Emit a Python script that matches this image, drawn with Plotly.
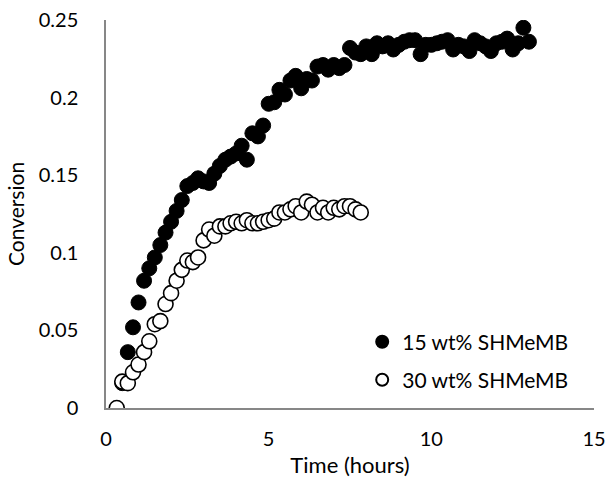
import plotly.graph_objects as go

# Conversion vs. time for two SHMeMB loadings
time_15 = [0.5, 0.67, 0.83, 1.0, 1.17, 1.33, 1.5, 1.67, 1.83, 2.0, 2.17, 2.33, 2.5,
           2.67, 2.83, 3.0, 3.17, 3.33, 3.5, 3.67, 3.83, 4.0, 4.17, 4.33, 4.5, 4.67,
           4.83, 5.0, 5.17, 5.33, 5.5, 5.67, 5.83, 6.0, 6.17, 6.33, 6.5, 6.67, 6.83,
           7.0, 7.17, 7.33, 7.5, 7.67, 7.83, 8.0, 8.17, 8.33, 8.5, 8.67, 8.83, 9.0,
           9.17, 9.33, 9.5, 9.67, 9.83, 10.0, 10.17, 10.33, 10.5, 10.67, 10.83, 11.0,
           11.17, 11.33, 11.5, 11.67, 11.83, 12.0, 12.17, 12.33, 12.5, 12.67, 12.83, 13.0]
conv_15 = [0.016, 0.036, 0.052, 0.068, 0.082, 0.090, 0.097, 0.105, 0.113, 0.120, 0.127,
           0.134, 0.143, 0.145, 0.148, 0.146, 0.145, 0.151, 0.156, 0.160, 0.162, 0.164,
           0.169, 0.160, 0.177, 0.175, 0.182, 0.196, 0.197, 0.205, 0.202, 0.211, 0.214,
           0.206, 0.212, 0.211, 0.220, 0.221, 0.218, 0.221, 0.219, 0.221, 0.232, 0.229,
           0.228, 0.233, 0.228, 0.235, 0.233, 0.235, 0.231, 0.234, 0.236, 0.237, 0.237,
           0.228, 0.234, 0.234, 0.235, 0.236, 0.237, 0.231, 0.234, 0.233, 0.230, 0.237,
           0.235, 0.233, 0.230, 0.235, 0.236, 0.238, 0.231, 0.235, 0.245, 0.236]

time_30 = [0.33, 0.5, 0.67, 0.83, 1.0, 1.17, 1.33, 1.5, 1.67, 1.83, 2.0, 2.17, 2.33,
           2.5, 2.67, 2.83, 3.0, 3.17, 3.33, 3.5, 3.67, 3.83, 4.0, 4.17, 4.33, 4.5,
           4.67, 4.83, 5.0, 5.17, 5.33, 5.5, 5.67, 5.83, 6.0, 6.17, 6.33, 6.5, 6.67,
           6.83, 7.0, 7.17, 7.33, 7.5, 7.67, 7.83]
conv_30 = [0.0, 0.017, 0.016, 0.023, 0.028, 0.036, 0.043, 0.054, 0.056, 0.067, 0.074,
           0.082, 0.089, 0.095, 0.094, 0.097, 0.108, 0.115, 0.111, 0.117, 0.117, 0.119,
           0.120, 0.119, 0.121, 0.119, 0.119, 0.120, 0.121, 0.122, 0.126, 0.126, 0.128,
           0.130, 0.126, 0.133, 0.131, 0.126, 0.129, 0.126, 0.129, 0.128, 0.130, 0.130,
           0.128, 0.126]

x_ticks = [0, 5, 10, 15]
y_ticks = [0, 0.05, 0.1, 0.15, 0.2, 0.25]
y_tick_text = ["0", "0.05", "0.1", "0.15", "0.2", "0.25"]

font_family = "Lato, Open Sans, sans-serif"
axis_color = "#878787"

fig = go.Figure()
fig.add_trace(go.Scatter(
    x=time_15, y=conv_15, mode="markers", name="15 wt% SHMeMB",
    marker=dict(size=15, color="black", line=dict(color="black", width=1)),
    legend="legend",
))
fig.add_trace(go.Scatter(
    x=time_30, y=conv_30, mode="markers", name="30 wt% SHMeMB",
    marker=dict(size=15, color="white", line=dict(color="black", width=1.6)),
    legend="legend2",
))

legend_style = dict(
    font=dict(family=font_family, size=21, color="black"),
    bgcolor="rgba(0,0,0,0)", itemsizing="constant",
    xanchor="left", yanchor="middle",
)

fig.update_layout(
    width=606, height=482,
    margin=dict(l=106, r=12, t=20, b=74, autoexpand=False),
    paper_bgcolor="white", plot_bgcolor="white",
    font=dict(family=font_family, size=20, color="black"),
    showlegend=True,
    legend=dict(x=0.525, y=0.17, **legend_style),
    legend2=dict(x=0.525, y=0.072, **legend_style),
    xaxis=dict(
        range=[0, 15], tickvals=x_ticks, showgrid=False, zeroline=False,
        showline=True, linecolor=axis_color, linewidth=1.5, automargin=False,
        ticks="", ticklabelstandoff=12, tickfont=dict(size=20),
        title=dict(text="Time (hours)", font=dict(size=22), standoff=9),
    ),
    yaxis=dict(
        range=[0, 0.25], tickvals=y_ticks, ticktext=y_tick_text,
        showgrid=False, zeroline=False, automargin=False,
        showline=True, linecolor=axis_color, linewidth=1.5,
        ticks="", ticklabelstandoff=22, tickfont=dict(size=20),
        title=dict(text="Conversion", font=dict(size=21), standoff=8),
    ),
)

fig.write_html("out.html")
